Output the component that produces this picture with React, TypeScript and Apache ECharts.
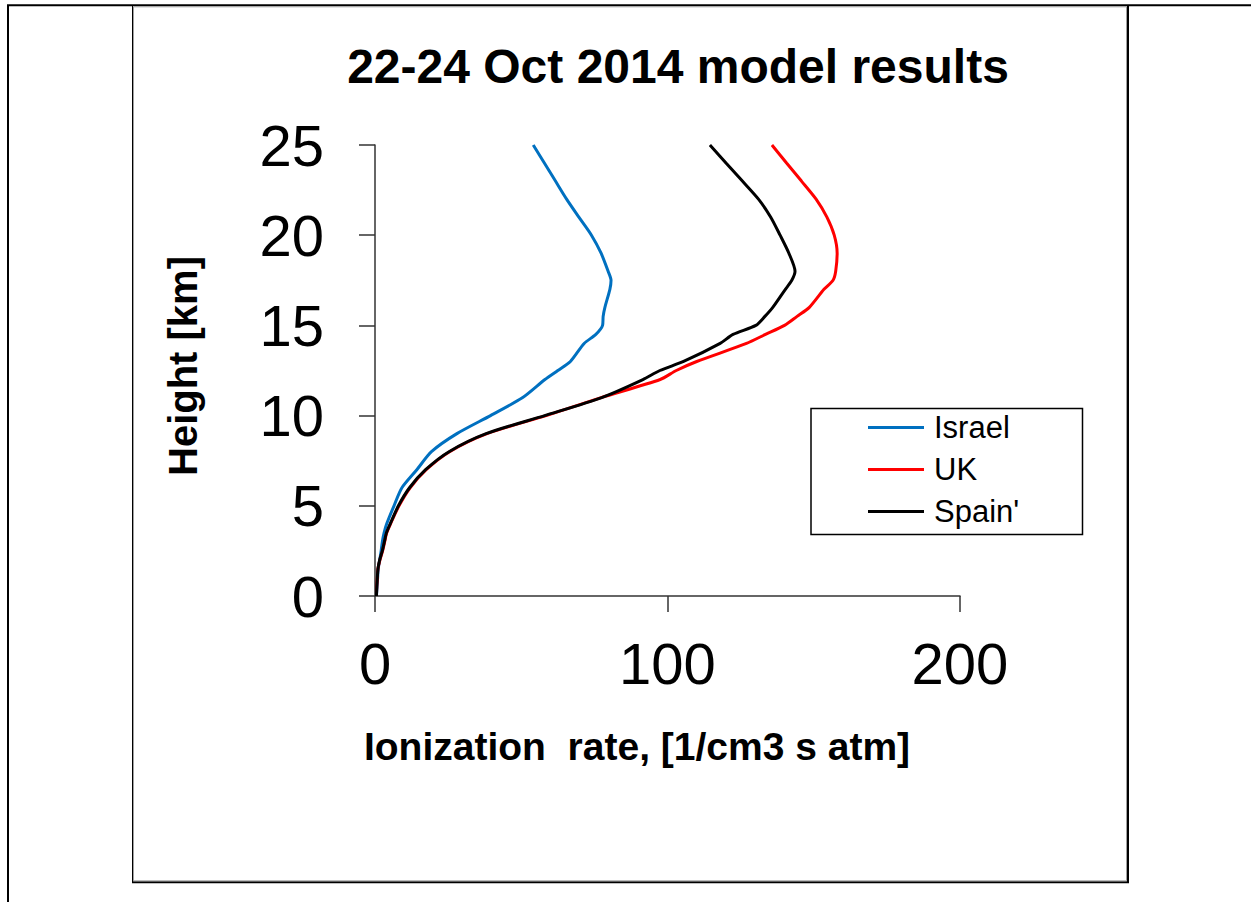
import React, { useEffect, useRef } from "react";
import * as echarts from "echarts";

const heightKm = [0, 0.5, 1, 1.5, 2, 2.5, 3, 3.5, 4, 5, 6, 7, 8, 9, 10, 11, 12, 12.5, 13, 14, 14.5, 15, 15.5, 16, 17, 17.5, 18, 19, 20, 21, 22, 23, 24, 25];
const israel = [0.5, 0.7, 0.9, 1.1, 1.6, 2.1, 2.5, 3.1, 4.0, 6.5, 9.2, 14.3, 19.3, 28.0, 39.5, 50.5, 58.1, 62.5, 66.8, 71.5, 75.5, 77.8, 78.0, 78.6, 80.3, 80.7, 79.7, 77.3, 74.0, 69.7, 65.5, 61.7, 57.9, 54.1];
const uk = [0.5, 0.6, 0.8, 1.0, 1.7, 2.6, 3.3, 4.0, 5.3, 8.2, 12.0, 17.5, 25.5, 38.3, 58.5, 77.3, 97.5, 103.0, 110.0, 127.0, 133.5, 140.0, 144.3, 148.5, 153.5, 156.6, 157.5, 158.0, 157.0, 154.5, 150.8, 145.8, 140.7, 135.7];
const spain = [0.5, 0.6, 0.8, 1.0, 1.6, 2.5, 3.2, 3.9, 5.2, 8.0, 11.8, 17.3, 25.3, 38.0, 58.0, 77.5, 91.6, 97.4, 105.5, 118.0, 122.4, 130.2, 133.3, 136.0, 140.3, 142.5, 143.6, 141.5, 138.5, 135.3, 131.1, 125.6, 120.0, 114.5];

const seriesNames = ["Israel", "UK", "Spain'"];
const seriesColors = ["#0070C0", "#FF0000", "#000000"];
const seriesValues = [israel, uk, spain];

const titleText = "22-24 Oct 2014 model results";
const xName = "Ionization  rate, [1/cm3 s atm]";
const yName = "Height [km]";

const FONT = "'Liberation Sans', Arial, sans-serif";

export default function App() {
  const ref = useRef<HTMLDivElement>(null);
  useEffect(() => {
    if (!ref.current) return;
    const chart = echarts.init(ref.current, null, { renderer: "svg" });
    chart.setOption({
      animation: false,
      backgroundColor: "#ffffff",
      grid: { left: 375, top: 145, width: 585, height: 451, containLabel: false },
      xAxis: {
        type: "value",
        min: 0,
        max: 200,
        interval: 100,
        axisLine: { show: true, lineStyle: { color: "#333", width: 1.5 } },
        axisTick: { show: true, length: 16, lineStyle: { color: "#333", width: 1.5 } },
        splitLine: { show: false },
        axisLabel: { fontSize: 58, color: "#000", fontFamily: FONT, margin: 38 },
      },
      yAxis: {
        type: "value",
        min: 0,
        max: 25,
        interval: 5,
        axisLine: { show: true, lineStyle: { color: "#333", width: 1.5 } },
        axisTick: { show: true, length: 16, lineStyle: { color: "#333", width: 1.5 } },
        splitLine: { show: false },
        axisLabel: { fontSize: 58, color: "#000", fontFamily: FONT, margin: 51 },
      },
      legend: {
        show: true,
        orient: "vertical",
        left: 868,
        top: 412,
        padding: 0,
        icon: "rect",
        itemWidth: 56,
        itemHeight: 3,
        itemGap: 11,
        textStyle: { fontSize: 31, lineHeight: 31, color: "#000", fontFamily: FONT, padding: [0, 0, 0, 5] },
        data: seriesNames,
      },
      series: seriesNames.map((name, i) => ({
        name,
        type: "line",
        symbol: "none",
        smooth: 0.25,
        color: seriesColors[i],
        lineStyle: { color: seriesColors[i], width: 3 },
        data: heightKm.map((h, k) => [seriesValues[i][k], h]),
      })),
      graphic: [
        { type: "line", shape: { x1: 8, y1: 5, x2: 8, y2: 902 }, style: { stroke: "#000", lineWidth: 2 } },
        { type: "line", shape: { x1: 7, y1: 5.3, x2: 1251, y2: 5.3 }, style: { stroke: "#000", lineWidth: 2 } },
        { type: "line", shape: { x1: 132.5, y1: 5, x2: 132.5, y2: 883 }, style: { stroke: "#000", lineWidth: 1 } },
        { type: "line", shape: { x1: 1128, y1: 5, x2: 1128, y2: 883 }, style: { stroke: "#000", lineWidth: 2 } },
        { type: "line", shape: { x1: 132, y1: 882.3, x2: 1129, y2: 882.3 }, style: { stroke: "#000", lineWidth: 2 } },
        { type: "line", shape: { x1: 133.5, y1: 6.8, x2: 133.5, y2: 881 }, style: { stroke: "#a0a0a0", lineWidth: 1 } },
        { type: "line", shape: { x1: 133.5, y1: 6.8, x2: 1126.5, y2: 6.8 }, style: { stroke: "#a0a0a0", lineWidth: 1 } },
        { type: "line", shape: { x1: 1126.5, y1: 6.8, x2: 1126.5, y2: 880.8 }, style: { stroke: "#a0a0a0", lineWidth: 1 } },
        { type: "line", shape: { x1: 133.5, y1: 880.8, x2: 1126.5, y2: 880.8 }, style: { stroke: "#a0a0a0", lineWidth: 1 } },
        { type: "rect", shape: { x: 811, y: 408.5, width: 271.5, height: 126 }, style: { fill: "none", stroke: "#000", lineWidth: 1.5 } },
        {
          type: "text",
          x: 678,
          y: 66,
          style: { text: titleText, font: `bold 48px ${FONT}`, fill: "#000", align: "center", verticalAlign: "middle" },
        },
        {
          type: "text",
          x: 637,
          y: 746,
          style: { text: xName, font: `bold 39px ${FONT}`, fill: "#000", align: "center", verticalAlign: "middle" },
        },
        {
          type: "text",
          x: 183,
          y: 366,
          rotation: Math.PI / 2,
          style: { text: yName, font: `bold 40px ${FONT}`, fill: "#000", align: "center", verticalAlign: "middle" },
        },
      ],
    });
    return () => chart.dispose();
  }, []);
  return <div ref={ref} style={{ position: "absolute", left: 0, top: 0, width: 1251, height: 902 }} />;
}
